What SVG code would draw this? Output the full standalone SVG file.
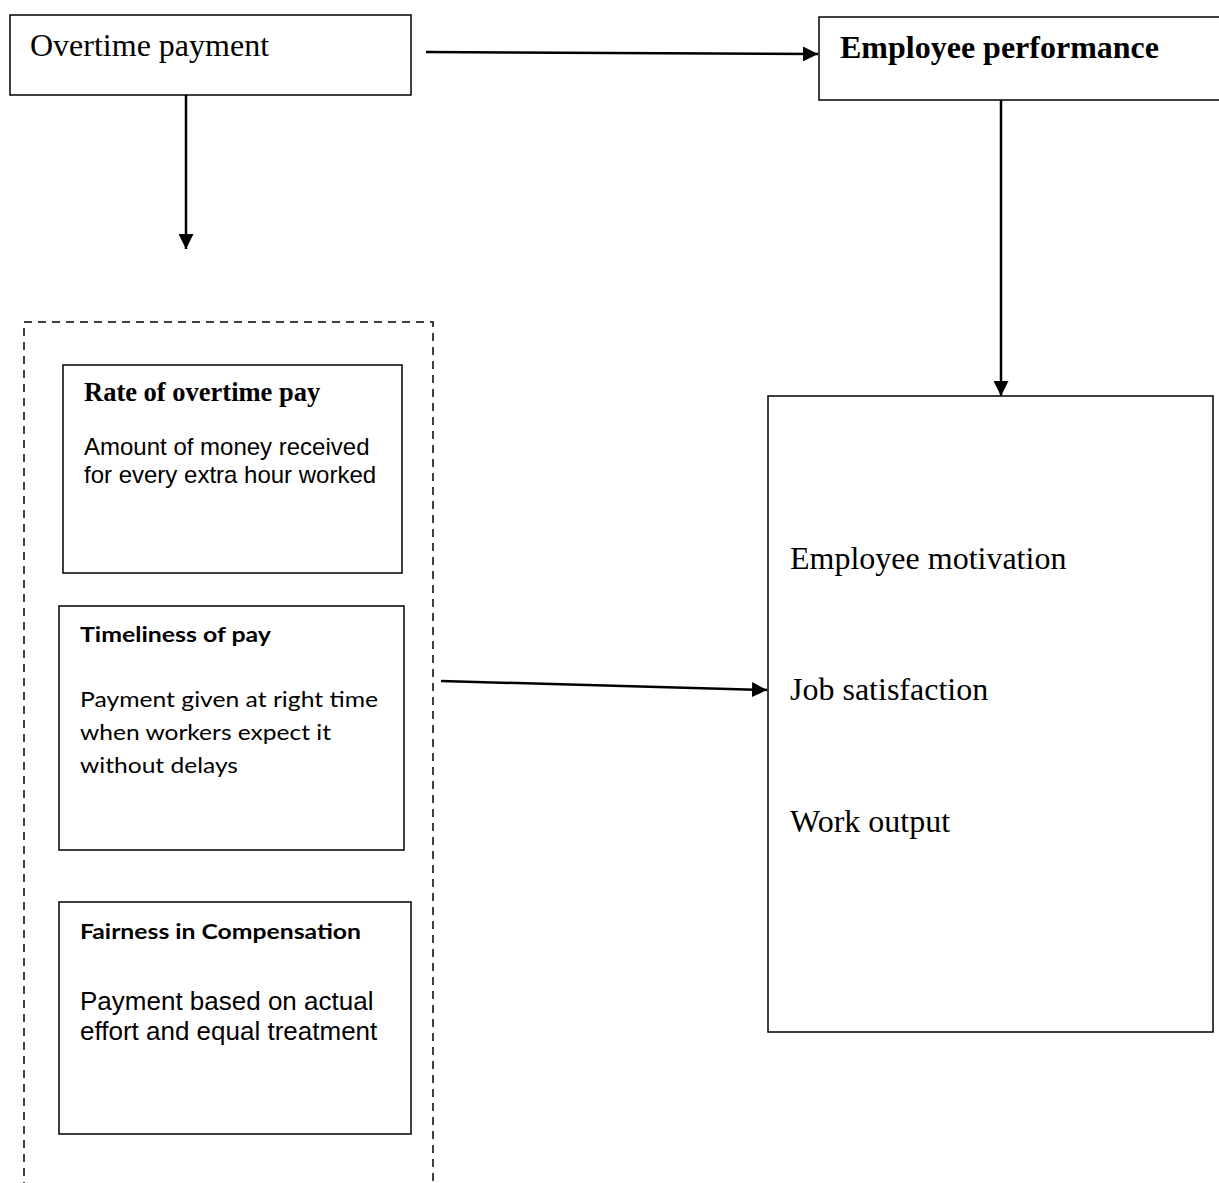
<svg xmlns="http://www.w3.org/2000/svg" width="1219" height="1183" viewBox="0 0 1219 1183">
<style>
.box{fill:#fff;stroke:#000;stroke-width:1.5}
.dash{fill:none;stroke:#000;stroke-width:1.5;stroke-dasharray:8,6}
.con{fill:none;stroke:#000;stroke-width:2.5}
.tr{font-family:"Liberation Serif",serif;font-size:32px;fill:#000}
.tb{font-family:"Liberation Serif",serif;font-weight:bold;fill:#000}
.ar{font-family:"Liberation Sans",Arial,sans-serif;fill:#000}
.cb{font-family:Lato,"Open Sans",sans-serif;fill:#000}
</style>
<defs>
<marker id="ah2" viewBox="0 0 10 10" refX="10" refY="5" markerWidth="6" markerHeight="6" orient="auto">
<path d="M0,0 L10,5 L0,10 z" fill="#000"/>
</marker>
</defs>
<rect width="1219" height="1183" fill="#fff"/>

<g id="connectors">
<line class="con" x1="426" y1="52" x2="818" y2="54" marker-end="url(#ah2)"/>
<line class="con" x1="186" y1="95" x2="186" y2="249" marker-end="url(#ah2)"/>
<line class="con" x1="1001" y1="100" x2="1001" y2="396" marker-end="url(#ah2)"/>
<line class="con" x1="441" y1="681" x2="767" y2="690" marker-end="url(#ah2)"/>
</g>

<g id="overtime-payment">
<rect class="box" x="10" y="15" width="401" height="80"/>
<text class="tr" x="30" y="56">Overtime payment</text>
</g>

<g id="employee-performance">
<rect class="box" x="819" y="17" width="410" height="83"/>
<text class="tb" x="840" y="58" font-size="32">Employee performance</text>
</g>

<g id="dimensions-group">
<path class="dash" d="M24,1190 L24,322 L433,322 L433,1190"/>
</g>

<g id="rate">
<rect class="box" x="63" y="365" width="339" height="208"/>
<text class="tb" x="84" y="401" font-size="26.5">Rate of overtime pay</text>
<text class="ar" x="84" y="455" font-size="24">Amount of money received</text>
<text class="ar" x="84" y="483" font-size="24">for every extra hour worked</text>
</g>

<g id="timeliness">
<rect class="box" x="59" y="606" width="345" height="244"/>
<text class="cb" x="80" y="642" font-size="21" font-weight="bold" textLength="191" lengthAdjust="spacingAndGlyphs">Timeliness of pay</text>
<text class="cb" x="80" y="707" font-size="22" textLength="298" lengthAdjust="spacingAndGlyphs">Payment given at right time</text>
<text class="cb" x="80" y="740" font-size="22" textLength="251" lengthAdjust="spacingAndGlyphs">when workers expect it</text>
<text class="cb" x="80" y="773" font-size="22" textLength="158" lengthAdjust="spacingAndGlyphs">without delays</text>
</g>

<g id="fairness">
<rect class="box" x="59" y="902" width="352" height="232"/>
<text class="cb" x="80" y="939" font-size="21" font-weight="bold" textLength="281" lengthAdjust="spacingAndGlyphs">Fairness in Compensation</text>
<text class="ar" x="80" y="1010" font-size="26">Payment based on actual</text>
<text class="ar" x="80" y="1040" font-size="26">effort and equal treatment</text>
</g>

<g id="outcomes">
<rect class="box" x="768" y="396" width="445" height="636"/>
<text class="tr" x="790" y="569">Employee motivation</text>
<text class="tr" x="790" y="700">Job satisfaction</text>
<text class="tr" x="790" y="832">Work output</text>
</g>
</svg>
